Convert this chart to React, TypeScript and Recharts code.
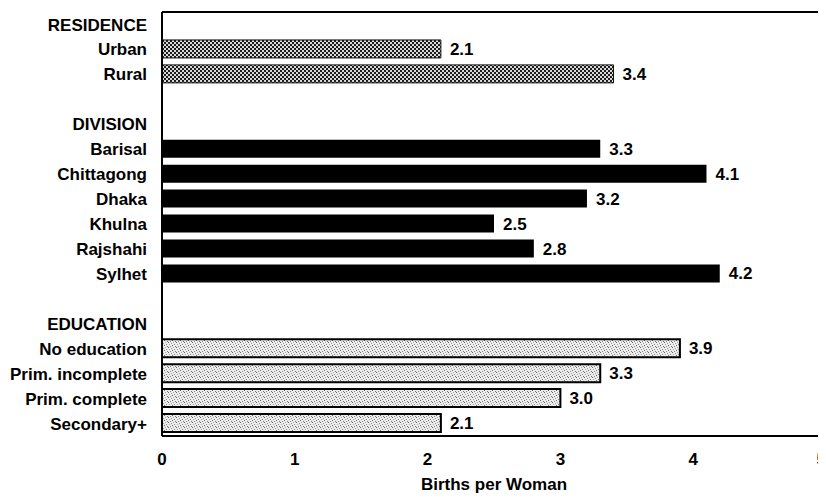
import { BarChart, Bar, XAxis, YAxis, Cell, LabelList } from 'recharts';

const categories = [
  'RESIDENCE', 'Urban', 'Rural', ' ',
  'DIVISION', 'Barisal', 'Chittagong', 'Dhaka', 'Khulna', 'Rajshahi', 'Sylhet', '  ',
  'EDUCATION', 'No education', 'Prim. incomplete', 'Prim. complete', 'Secondary+',
];

const values = [
  null, 2.1, 3.4, null,
  null, 3.3, 4.1, 3.2, 2.5, 2.8, 4.2, null,
  null, 3.9, 3.3, 3.0, 2.1,
];

const groups = [
  'head', 'residence', 'residence', 'gap',
  'head', 'division', 'division', 'division', 'division', 'division', 'division', 'gap',
  'head', 'education', 'education', 'education', 'education',
];

const xTicks = [0, 1, 2, 3, 4, 5];

const FONT = '"Liberation Sans", Arial, sans-serif';

const FILLS: Record<string, { fill: string; stroke: string; strokeWidth: number }> = {
  residence: { fill: 'url(#dither)', stroke: '#111', strokeWidth: 1 },
  division: { fill: '#000', stroke: '#000', strokeWidth: 0 },
  education: { fill: 'url(#stipple)', stroke: '#000', strokeWidth: 2 },
};

const data = categories.map((name, i) => ({ name, value: values[i], group: groups[i] }));

function Patterns() {
  return (
    <svg width={0} height={0} style={{ position: 'absolute' }}>
      <defs>
        <pattern id="dither" width={4} height={4} patternUnits="userSpaceOnUse">
          <rect width={4} height={4} fill="#1e1e1e" />
          <rect x={0} y={0} width={2} height={2} fill="#d8d8d8" />
          <rect x={2} y={2} width={2} height={2} fill="#d8d8d8" />
        </pattern>
        <pattern id="stipple" width={8} height={5} patternUnits="userSpaceOnUse">
          <rect width={8} height={5} fill="#ececec" />
          <rect x={0} y={4} width={1} height={1} fill="#666" />
          <rect x={2} y={3} width={1} height={1} fill="#888" />
          <rect x={4} y={2} width={1} height={1} fill="#666" />
          <rect x={6} y={1} width={1} height={1} fill="#888" />
          <rect x={3} y={0} width={1} height={1} fill="#999" />
          <rect x={7} y={3} width={1} height={1} fill="#777" />
          <rect x={5} y={4} width={1} height={1} fill="#aaa" />
          <rect x={1} y={1} width={1} height={1} fill="#aaa" />
        </pattern>
      </defs>
    </svg>
  );
}

// last tick sits on the right edge, so anchor it to its end to keep it visible
function XTick(props: any) {
  const { x, y, payload } = props;
  const last = payload.value === xTicks[xTicks.length - 1];
  return (
    <text
      x={x}
      y={y}
      dy="0.71em"
      textAnchor={last ? 'end' : 'middle'}
      fill="#000"
      fontSize={17}
      fontWeight="bold"
      fontFamily={FONT}
    >
      {payload.value}
    </text>
  );
}

export default function App() {
  return (
    <div style={{ width: 818, height: 491, overflow: 'hidden', fontFamily: FONT }}>
      <Patterns />
      <BarChart
        width={818}
        height={491}
        data={data}
        layout="vertical"
        margin={{ top: 3, right: 0, bottom: 0, left: 0 }}
        barSize={18}
      >
        <XAxis
          type="number"
          domain={[0, 5]}
          ticks={xTicks}
          interval={0}
          height={63}
          axisLine={{ stroke: '#000', strokeWidth: 2 }}
          tickLine={false}
          tickSize={6}
          tickMargin={11}
          tick={<XTick />}
          label={{
            value: 'Births per Woman',
            position: 'insideBottom',
            offset: 9,
            fill: '#000',
            fontSize: 17,
            fontWeight: 'bold',
            fontFamily: FONT,
          }}
        />
        <XAxis
          xAxisId="top"
          orientation="top"
          type="number"
          domain={[0, 5]}
          height={1}
          tick={false}
          tickLine={false}
          axisLine={{ stroke: '#000', strokeWidth: 2 }}
        />
        <YAxis
          type="category"
          dataKey="name"
          width={154}
          interval={0}
          axisLine={{ stroke: '#000', strokeWidth: 2 }}
          tickLine={false}
          tickSize={6}
          tickMargin={9}
          tick={{ fill: '#000', fontSize: 17, fontWeight: 'bold', fontFamily: FONT }}
        />
        <Bar dataKey="value" isAnimationActive={false}>
          {data.map((d, i) => {
            const s = FILLS[d.group] || FILLS.division;
            return <Cell key={`cell-${i}`} fill={s.fill} stroke={s.stroke} strokeWidth={s.strokeWidth} />;
          })}
          <LabelList
            dataKey="value"
            position="right"
            offset={9}
            formatter={(v: any) => (v == null ? '' : Number(v).toFixed(1))}
            style={{ fill: '#000', fontSize: 17, fontWeight: 'bold', fontFamily: FONT }}
          />
        </Bar>
        <Bar dataKey="value" xAxisId="top" isAnimationActive={false} fill="none" legendType="none" hide />
      </BarChart>
    </div>
  );
}
